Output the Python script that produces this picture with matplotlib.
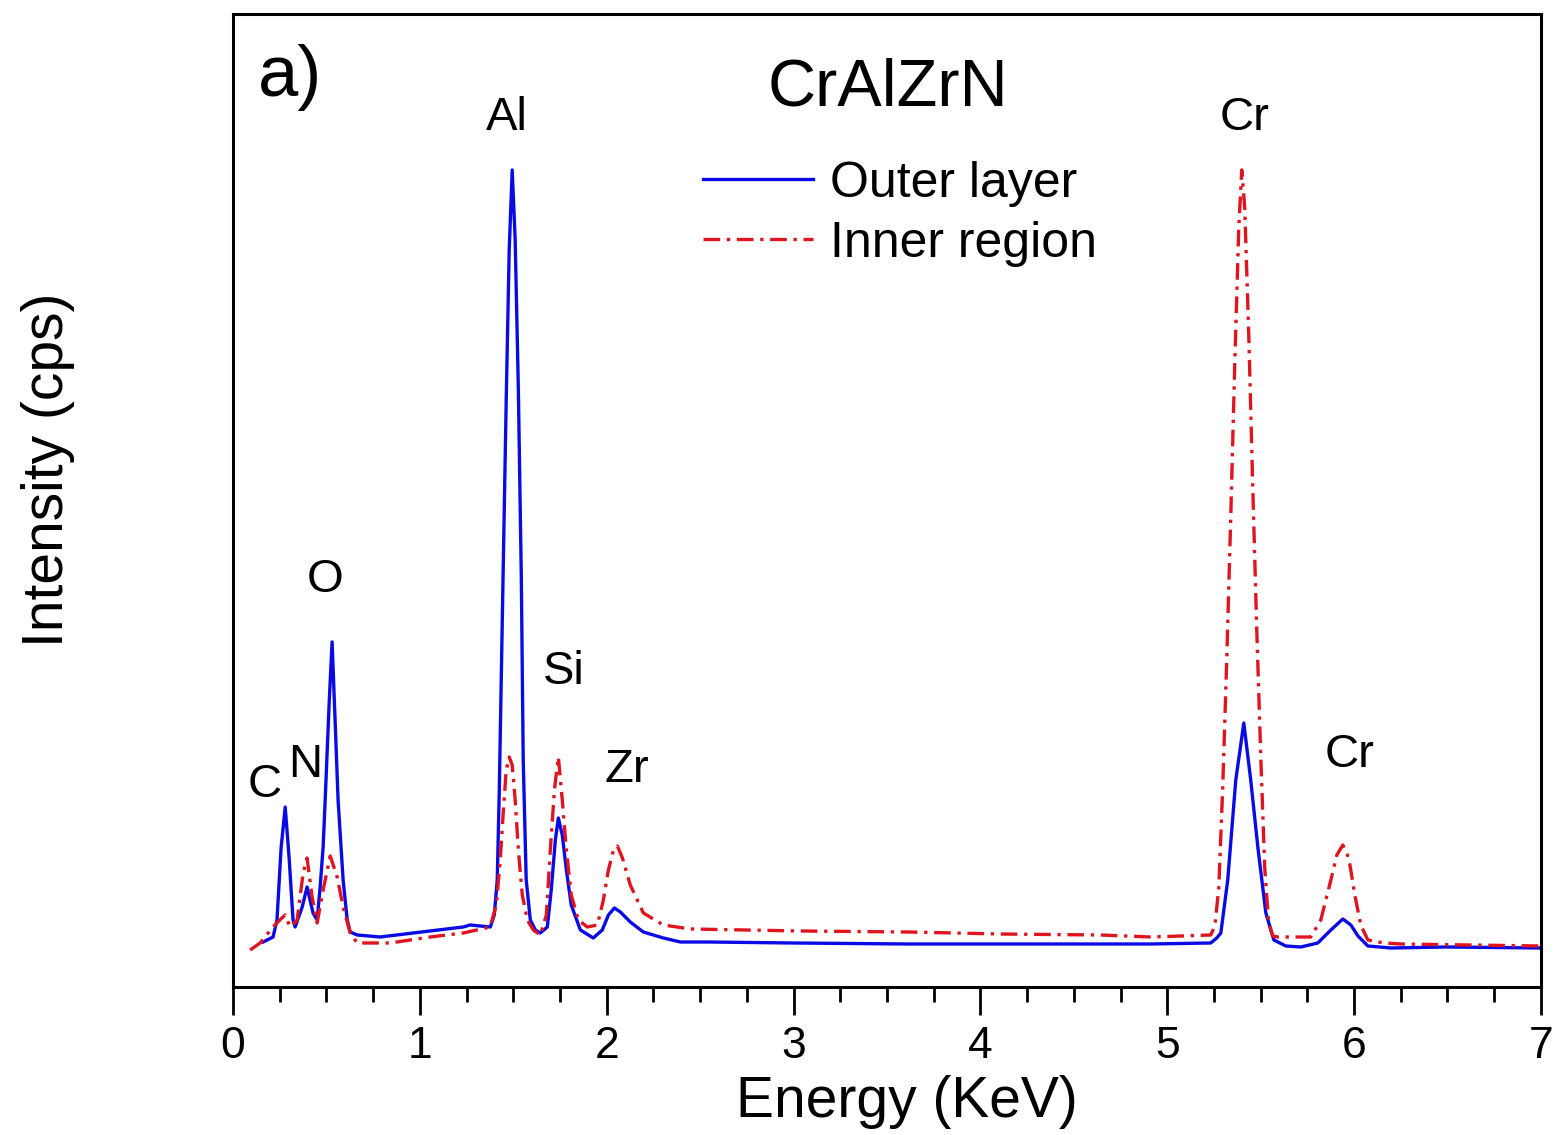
import matplotlib
matplotlib.use("Agg")
import matplotlib.pyplot as plt
from matplotlib.ticker import MultipleLocator

plt.rcParams['font.family'] = ['Liberation Sans', 'DejaVu Sans']

# EDS spectra (energy in keV, intensity in arbitrary cps)
outer_energy = [0.161, 0.214, 0.235, 0.257, 0.279, 0.300, 0.321, 0.332, 0.370, 0.396,
                0.428, 0.450, 0.466, 0.482, 0.493, 0.515, 0.530, 0.546, 0.562, 0.589,
                0.611, 0.627, 0.664, 0.787, 0.964, 1.232, 1.269, 1.377, 1.398, 1.414,
                1.425, 1.441, 1.462, 1.478, 1.494, 1.510, 1.527, 1.543, 1.553, 1.569,
                1.591, 1.618, 1.644, 1.682, 1.703, 1.725, 1.741, 1.762, 1.784, 1.810,
                1.859, 1.928, 1.976, 2.009, 2.041, 2.073, 2.126, 2.196, 2.303, 2.394,
                2.539, 3.0, 3.61, 4.0, 4.5, 4.912, 5.233, 5.265, 5.287, 5.324,
                5.367, 5.410, 5.447, 5.485, 5.528, 5.571, 5.635, 5.715, 5.806, 5.876,
                5.940, 5.983, 6.021, 6.074, 6.197, 6.5, 7.0]
outer_counts = [46, 51, 68, 140, 181, 130, 68, 61, 81, 101,
                75, 68, 101, 141, 188, 288, 346, 268, 188, 108,
                68, 56, 53, 51, 55, 61, 63, 61, 73, 108,
                198, 368, 588, 738, 818, 748, 598, 408, 228, 108,
                68, 58, 55, 61, 98, 148, 170, 153, 118, 83,
                58, 50, 58, 73, 80, 76, 66, 56, 50, 46,
                46, 45, 44, 44, 44, 44, 45, 50, 55, 108,
                208, 265, 208, 141, 75, 48, 42, 41, 45, 58,
                69, 63, 52, 42, 40, 41, 40]

inner_energy = [0.091, 0.145, 0.214, 0.250, 0.279, 0.305, 0.343, 0.375, 0.396, 0.423,
                0.450, 0.482, 0.520, 0.557, 0.589, 0.627, 0.664, 0.841, 1.055, 1.232,
                1.376, 1.409, 1.430, 1.446, 1.462, 1.478, 1.494, 1.510, 1.527, 1.548,
                1.575, 1.607, 1.644, 1.677, 1.698, 1.720, 1.741, 1.762, 1.784, 1.810,
                1.848, 1.896, 1.950, 1.982, 2.009, 2.036, 2.057, 2.084, 2.126, 2.196,
                2.303, 2.448, 3.04, 3.61, 4.108, 4.644, 4.912, 5.233, 5.255, 5.276,
                5.297, 5.319, 5.340, 5.361, 5.383, 5.399, 5.415, 5.437, 5.458, 5.479,
                5.501, 5.522, 5.543, 5.565, 5.592, 5.715, 5.769, 5.822, 5.876, 5.908,
                5.940, 5.972, 6.004, 6.036, 6.074, 6.160, 6.251, 7.0]
inner_counts = [38, 45, 61, 68, 73, 61, 68, 115, 130, 91,
                65, 98, 132, 111, 81, 55, 45, 45, 51, 55,
                61, 83, 128, 175, 218, 231, 223, 188, 138, 93,
                68, 58, 53, 73, 138, 198, 231, 188, 138, 93,
                68, 61, 63, 88, 118, 138, 142, 130, 103, 75,
                63, 59, 57, 56, 54, 53, 51, 53, 62, 100,
                200, 330, 470, 620, 760, 818, 780, 650, 500, 360,
                230, 120, 65, 52, 51, 51, 51, 68, 108, 133,
                143, 130, 93, 63, 48, 45, 44, 42]

peak_names = ['C', 'N', 'O', 'Al', 'Si', 'Zr', 'Cr', 'Cr']
peak_x = [0.171, 0.386, 0.493, 1.468, 1.768, 2.110, 5.415, 5.977]
peak_y = [203, 223, 408, 870, 316, 218, 870, 233]

fig = plt.figure(figsize=(15.58, 11.35), dpi=100)
ax = fig.add_axes([0.1496, 0.1304, 0.8394, 0.8573])

ax.plot(outer_energy, outer_counts, color='#0a0ae6', lw=2.4, label='Outer layer')
ax.plot(inner_energy, inner_counts, color='#e0141e', lw=2.4,
        linestyle=(0, (5, 2, 1, 2)), label='Inner region')

ax.set_xlim(0, 7)
ax.set_ylim(1, 974)
ax.xaxis.set_major_locator(MultipleLocator(1))
ax.xaxis.set_minor_locator(MultipleLocator(0.25))
ax.set_yticks([])
ax.tick_params(axis='x', which='major', length=20, width=2, labelsize=32, pad=8)
ax.tick_params(axis='x', which='minor', length=11, width=2)
for s in ax.spines.values():
    s.set_linewidth(2.2)

ax.set_xlabel('Energy (KeV)', fontsize=41, labelpad=6)
ax.xaxis.label.set_x(0.515)
ax.set_ylabel('Intensity (cps)', fontsize=41)
ax.yaxis.set_label_coords(-0.121, 0.532)

for name, x, y in zip(peak_names, peak_x, peak_y):
    ax.text(x, y, name, fontsize=34, ha='center', va='center')

ax.text(0.019, 0.935, 'a)', transform=ax.transAxes, fontsize=52, ha='left', va='center')
ax.text(0.5008, 0.923, 'CrAlZrN', transform=ax.transAxes, fontsize=48, ha='center', va='center')

ax.legend(loc='upper left', bbox_to_anchor=(0.3593, 0.849), frameon=False,
          fontsize=36, handlelength=2.2, handletextpad=0.35, labelspacing=0.28,
          borderpad=0, borderaxespad=0)

fig.savefig('out.png', dpi=100)
